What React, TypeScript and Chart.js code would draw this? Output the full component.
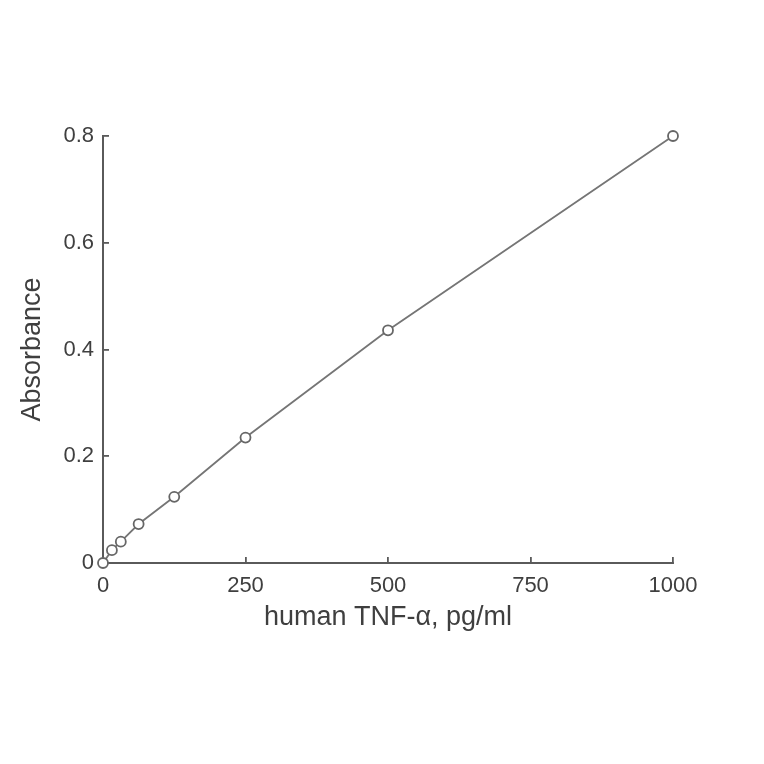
import React, { useEffect, useRef } from 'react';
import { Chart, registerables } from 'chart.js';

Chart.register(...registerables);

// standard curve: concentration (pg/ml) vs absorbance
const concentrations = [0, 15.625, 31.25, 62.5, 125, 250, 500, 1000];
const absorbance = [0.0, 0.024, 0.04, 0.073, 0.124, 0.235, 0.436, 0.8];
const xTicks = [0, 250, 500, 750, 1000];
const yTicks = [0, 0.2, 0.4, 0.6, 0.8];

const FONT = '"Liberation Sans", Arial, Helvetica, sans-serif';
const AXIS = '#5a5a5a';
const TEXT = '#3f3f3f';
const LINE = '#757575';

const App = () => {
    const chartRef = useRef<HTMLCanvasElement>(null);

    useEffect(() => {
        document.body.style.margin = '0';
        if (chartRef.current == null) return;
        const ctx = chartRef.current.getContext('2d');
        if (ctx == null) return;

        const myChart = new Chart(ctx, {
            type: 'line',
            data: {
                datasets: [{
                    data: concentrations.map((x, i) => ({ x, y: absorbance[i] })),
                    borderColor: LINE,
                    borderWidth: 1.8,
                    backgroundColor: '#ffffff',
                    pointRadius: 5,
                    pointBorderWidth: 1.8,
                    pointBorderColor: '#666666',
                    pointBackgroundColor: '#ffffff',
                    tension: 0,
                    clip: false,
                }]
            },
            options: {
                animation: false,
                responsive: true,
                maintainAspectRatio: false,
                layout: {
                    padding: { left: 16, top: 136, right: 91, bottom: 130 }
                },
                plugins: {
                    legend: { display: false },
                    tooltip: { enabled: false },
                },
                scales: {
                    x: {
                        type: 'linear',
                        min: 0,
                        max: 1000,
                        afterFit: (scale: any) => { scale.height = 71; },
                        afterBuildTicks: (scale: any) => {
                            scale.ticks = xTicks.map(v => ({ value: v }));
                        },
                        grid: {
                            drawOnChartArea: false,
                            tickLength: -6,
                            color: AXIS,
                            lineWidth: 1.8,
                        },
                        border: { color: AXIS, width: 2 },
                        ticks: {
                            padding: 16,
                            color: TEXT,
                            font: { family: FONT, size: 22 },
                            maxRotation: 0,
                            autoSkip: false,
                            callback: (v: any) => String(v),
                        },
                        title: {
                            display: true,
                            text: 'human TNF-\u03b1, pg/ml',
                            color: TEXT,
                            padding: 0,
                            font: { family: FONT, size: 27 },
                        },
                    },
                    y: {
                        type: 'linear',
                        min: 0,
                        max: 0.8,
                        afterFit: (scale: any) => { scale.width = 87; },
                        afterBuildTicks: (scale: any) => {
                            scale.ticks = yTicks.map(v => ({ value: v }));
                        },
                        grid: {
                            drawOnChartArea: false,
                            tickLength: -6,
                            color: AXIS,
                            lineWidth: 1.8,
                        },
                        border: { color: AXIS, width: 2 },
                        ticks: {
                            padding: 15,
                            color: TEXT,
                            font: { family: FONT, size: 22 },
                            autoSkip: false,
                            callback: (v: any) => String(v),
                        },
                        title: {
                            display: true,
                            text: 'Absorbance',
                            color: TEXT,
                            padding: 0,
                            font: { family: FONT, size: 27 },
                        },
                    },
                },
            },
        });
        return () => {
            myChart.destroy();
        };
    }, []);

    return (
        <div style={{ position: 'relative', width: 764, height: 764, background: '#ffffff' }}>
            <canvas ref={chartRef} />
        </div>
    );
};

export default App;
